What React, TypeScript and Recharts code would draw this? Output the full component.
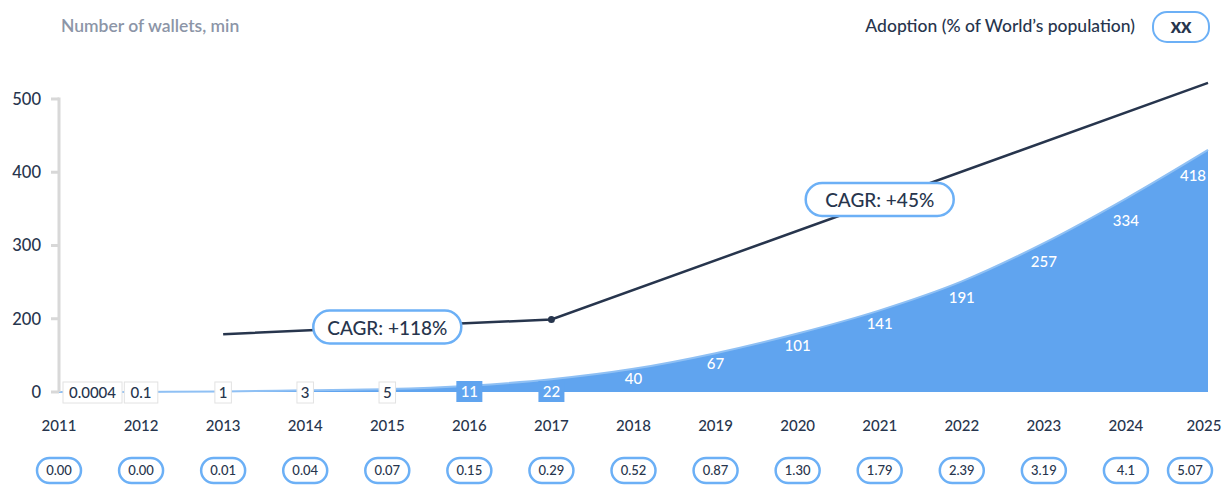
import { ComposedChart, Area, Line, XAxis, YAxis, ReferenceLine, ReferenceDot, LabelList } from 'recharts';

const years = ['2011', '2012', '2013', '2014', '2015', '2016', '2017', '2018', '2019', '2020', '2021', '2022', '2023', '2024', '2025'];
const wallets = [0.0004, 0.1, 1, 3, 5, 11, 22, 40, 67, 101, 141, 191, 257, 334, 418];
const walletLabels = ['0.0004', '0.1', '1', '3', '5', '11', '22', '40', '67', '101', '141', '191', '257', '334', '418'];
// trend line only has the three anchor points, the rest is joined straight
const trend = [null, null, 179, null, null, null, 199, null, null, null, null, null, null, null, 522];
const adoption = ['0.00', '0.00', '0.01', '0.04', '0.07', '0.15', '0.29', '0.52', '0.87', '1.30', '1.79', '2.39', '3.19', '4.1', '5.07'];
const leftTicks = [100, 200, 300, 400, 500];
const leftTickLabels = ['0', '200', '300', '400', '500'];
const cagrYears = ['2015', '2021'];
const cagrValues = [188, 362];
const cagrTexts = ['CAGR: +118%', 'CAGR: +45%'];

const data = years.map((year, i) => ({ year, wallets: wallets[i], trend: trend[i] }));

const FONT = 'Lato, "Open Sans", sans-serif';
const DARK = '#27354d';
const BLUE = '#60a4ef';
const PILL = '#6cb0f6';
const PLOT_BOTTOM = 384;

function YearTick(props: any) {
  const { x, y, payload, index } = props;
  const last = index === years.length - 1;
  const tx = last ? x - 4 : x;
  const px = last ? x - 18 : x;
  return (
    <g>
      <text x={tx} y={y + 39} textAnchor="middle" fontSize={15} fontWeight={500} fill={DARK} fontFamily={FONT}>
        {payload.value}
      </text>
      <rect x={px - 22} y={y + 66} width={44} height={25} rx={12.5} fill="#fff" stroke={PILL} strokeWidth={2.5} />
      <text x={px} y={y + 83} textAnchor="middle" fontSize={13} fontWeight={500} fill={DARK} fontFamily={FONT}>
        {adoption[index]}
      </text>
    </g>
  );
}

function WalletLabel(props: any) {
  const { x, y, index } = props;
  const text = walletLabels[index];
  const value = wallets[index];
  if (value < 10) {
    const w = text.length * 8.5 + 8;
    const cx = index === 0 ? x + 4 + w / 2 : x;
    return (
      <g>
        <rect x={cx - w / 2} y={PLOT_BOTTOM - 10} width={w} height={21} fill="#fff" stroke="#e2e2e2" strokeWidth={1} />
        <text x={cx} y={PLOT_BOTTOM + 6} textAnchor="middle" fontSize={15} fontWeight={500} fill={DARK} fontFamily={FONT}>
          {text}
        </text>
      </g>
    );
  }
  if (value < 30) {
    const w = text.length * 9 + 8;
    return (
      <g>
        <rect x={x - w / 2} y={PLOT_BOTTOM - 11} width={w} height={21} fill={BLUE} />
        <text x={x} y={PLOT_BOTTOM + 5} textAnchor="middle" fontSize={15} fontWeight={500} fill="#fff" fontFamily={FONT}>
          {text}
        </text>
      </g>
    );
  }
  const dx = index === wallets.length - 1 ? -15 : 0;
  return (
    <text x={x + dx} y={y + 13 + value * 0.043} textAnchor="middle" fontSize={15} fontWeight={500} fill="#fff" fontFamily={FONT}>
      {text}
    </text>
  );
}

function TrendDot(props: any) {
  const { cx, cy, index } = props;
  if (index !== 6) return <g key={index} />;
  return <circle key={index} cx={cx} cy={cy} r={3.5} fill={DARK} />;
}

function cagrLabel(text: string) {
  return (props: any) => {
    const { viewBox } = props;
    const cx = viewBox.x + viewBox.width / 2;
    const cy = viewBox.y + viewBox.height / 2;
    return (
      <g>
        <rect x={cx - 74} y={cy - 17} width={148} height={33} rx={16.5} fill="#fff" stroke={PILL} strokeWidth={2.5} />
        <text x={cx} y={cy + 7} textAnchor="middle" fontSize={19} fontWeight={500} fill={DARK} fontFamily={FONT}>
          {text}
        </text>
      </g>
    );
  };
}

export default function App() {
  return (
    <div style={{ position: 'relative', width: 1223, height: 479, fontFamily: FONT }}>
      <div style={{ position: 'absolute', left: 53, top: 7, fontSize: 17.5, fontWeight: 600, color: '#8c95a7' }}>
        Number of wallets, min
      </div>
      <div style={{ position: 'absolute', right: 96, top: 7, fontSize: 17.5, fontWeight: 500, color: DARK }}>
        Adoption (% of World’s population)
      </div>
      <div
        style={{
          position: 'absolute',
          left: 1144,
          top: 3,
          width: 54,
          height: 28,
          borderRadius: 15,
          border: `2.5px solid ${PILL}`,
          display: 'flex',
          alignItems: 'center',
          justifyContent: 'center',
          fontSize: 15,
          fontWeight: 800,
          color: DARK,
        }}
      >
        XX
      </div>
      <ComposedChart width={1223} height={479} data={data} margin={{ top: 69, right: 23, bottom: 0, left: 0 }}>
        <XAxis
          dataKey="year"
          axisLine={false}
          tickLine={false}
          tickSize={0}
          tickMargin={0}
          height={95}
          interval={0}
          tick={<YearTick />}
        />
        <YAxis
          yAxisId="left"
          width={51}
          domain={[100, 530]}
          ticks={leftTicks}
          tickFormatter={(v: number) => leftTickLabels[leftTicks.indexOf(v)]}
          axisLine={false}
          tickLine={{ stroke: '#d8d8d8', strokeWidth: 3 }}
          tickSize={8}
          tickMargin={10}
          tick={{ fontSize: 16.5, fontWeight: 500, fill: DARK, fontFamily: FONT }}
        />
        <YAxis yAxisId="right" orientation="right" hide domain={[0, 544]} />
        <ReferenceLine
          yAxisId="left"
          segment={[{ x: '2011', y: 100 }, { x: '2011', y: 502 }]}
          stroke="#d8d8d8"
          strokeWidth={3}
        />
        <Area
          yAxisId="right"
          type="monotone"
          dataKey="wallets"
          fill={BLUE}
          fillOpacity={1}
          stroke="#8fc0f4"
          strokeWidth={2}
          isAnimationActive={false}
        >
          <LabelList dataKey="wallets" content={<WalletLabel />} />
        </Area>
        <Line
          yAxisId="left"
          type="linear"
          dataKey="trend"
          stroke={DARK}
          strokeWidth={2.5}
          connectNulls
          dot={<TrendDot />}
          activeDot={false}
          isAnimationActive={false}
        />
        {cagrYears.map((yr, i) => (
          <ReferenceDot
            key={yr}
            yAxisId="left"
            x={yr}
            y={cagrValues[i]}
            r={0}
            fill="none"
            stroke="none"
            label={cagrLabel(cagrTexts[i])}
          />
        ))}
      </ComposedChart>
    </div>
  );
}
